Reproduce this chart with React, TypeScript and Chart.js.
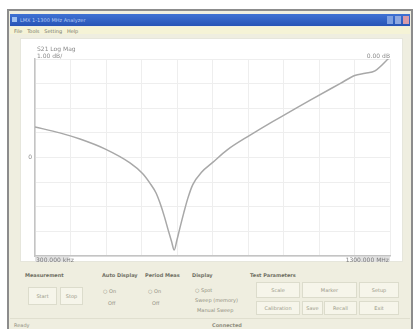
import React, { useEffect, useRef } from "react";
import { Chart, registerables } from "chart.js";

Chart.register(...registerables);

// Frequency (MHz) of sampled trace points
const freqMHz = [0.3, 91, 165, 256, 348, 394, 421, 444, 458, 474, 488, 500, 510, 520, 530, 545, 560, 578, 610, 651, 703, 788, 861, 909, 1008, 1117, 1171, 1209, 1245, 1300];
// Trace value (dB)
const s21dB = [1.24, 1.0, 0.75, 0.35, -0.22, -0.65, -1.04, -1.45, -1.85, -2.4, -2.95, -3.4, -3.76, -3.35, -2.9, -2.25, -1.65, -1.1, -0.6, -0.2, 0.3, 0.91, 1.4, 1.7, 2.33, 3.0, 3.33, 3.42, 3.52, 4.08];

const traceLabel = "S21 Log Mag";
const scaleLabel = "1.00 dB/";
const refLabel = "0.00 dB";
const startLabel = "300.000 kHz";
const stopLabel = "1300.000 MHz";
const yMin = -4;
const yMax = 4;
const xMin = 0.3;
const xMax = 1300;

const font = "'DejaVu Sans', sans-serif";

function ChartPanel() {
  const ref = useRef<HTMLCanvasElement | null>(null);
  useEffect(() => {
    if (!ref.current) return;
    const labelsPlugin = {
      id: "labels",
      afterDraw(chart: any) {
        const { ctx, chartArea } = chart;
        ctx.save();
        ctx.font = `6px ${font}`;
        ctx.fillStyle = "#8a8a8a";
        ctx.textBaseline = "middle";
        ctx.textAlign = "left";
        ctx.fillText(traceLabel, chartArea.left + 2, chartArea.top - 10);
        ctx.fillText(scaleLabel, chartArea.left + 2, chartArea.top - 3);
        ctx.textAlign = "right";
        ctx.fillText(refLabel, chartArea.right, chartArea.top - 3);
        ctx.textAlign = "right";
        ctx.fillText("0", chartArea.left - 3, (chartArea.top + chartArea.bottom) / 2);
        ctx.textAlign = "left";
        ctx.fillStyle = "#e2e2e2";
        ctx.fillRect(chartArea.left, chartArea.bottom + 1, 34, 6);
        ctx.fillRect(chartArea.right - 36, chartArea.bottom + 1, 36, 6);
        ctx.fillStyle = "#7a7a7a";
        ctx.fillText(startLabel, chartArea.left + 1, chartArea.bottom + 4);
        ctx.textAlign = "right";
        ctx.fillText(stopLabel, chartArea.right - 1, chartArea.bottom + 4);
        ctx.restore();
      },
    };
    const chart = new Chart(ref.current, {
      type: "line",
      data: {
        datasets: [
          {
            data: freqMHz.map((f, i) => ({ x: f, y: s21dB[i] })),
            borderColor: "#a8a8a8",
            borderWidth: 1.5,
            pointRadius: 0,
            cubicInterpolationMode: "monotone",
            fill: false,
          },
        ],
      },
      options: {
        animation: false,
        responsive: false,
        maintainAspectRatio: false,
        layout: { padding: { left: 15, top: 21, right: 13, bottom: 6 } },
        plugins: { legend: { display: false }, tooltip: { enabled: false } },
        scales: {
          x: {
            type: "linear",
            min: xMin,
            max: xMax,
            afterBuildTicks: (scale: any) => {
              scale.ticks = Array.from({ length: 11 }, (_, i) => ({ value: xMin + (i * (xMax - xMin)) / 10 }));
            },
            ticks: { display: false },
            grid: { color: "#eeeeee", drawTicks: false, lineWidth: 1 },
            border: { color: "#c4c4c4", width: 1.5 },
          },
          y: {
            min: yMin,
            max: yMax,
            ticks: { display: false, stepSize: 1 },
            grid: { color: "#eeeeee", drawTicks: false, lineWidth: 1 },
            border: { color: "#c4c4c4", width: 1.5 },
          },
        },
      },
      plugins: [labelsPlugin],
    });
    return () => chart.destroy();
  }, []);
  return <canvas ref={ref} width={383} height={224} style={{ position: "absolute", left: 20, top: 38, width: 383, height: 224 }} />;
}

const txt: React.CSSProperties = { position: "absolute", fontFamily: font, fontSize: 5, color: "#8f8f80", whiteSpace: "nowrap", lineHeight: "6px" };
const lbl: React.CSSProperties = { ...txt, color: "#707064", fontWeight: "bold" };
const btn = (left: number, top: number, w: number, h: number): React.CSSProperties => ({
  position: "absolute", left, top, width: w, height: h, border: "1px solid #dcdccc", background: "#f6f5ea", boxSizing: "border-box",
  fontFamily: font, fontSize: 5, color: "#999988", display: "flex", alignItems: "center", justifyContent: "center",
});

export default function App() {
  return (
    <div style={{ position: "fixed", left: 0, top: 0, width: 413, height: 329, background: "#ffffff", overflow: "hidden" }}>
      <div style={{ position: "absolute", left: 7, top: 9, width: 406, height: 322, border: "2px solid #8c8c8c", background: "#efeee0", boxSizing: "border-box" }} />
      <div style={{ position: "absolute", left: 10, top: 14, width: 400, height: 12, background: "linear-gradient(#3f72d4, #2754b6)" }} />
      <div style={{ position: "absolute", left: 12, top: 17, width: 5, height: 5, background: "#9fc0f0" }} />
      <div style={{ ...txt, left: 20, top: 17, color: "#b8ccf4" }}>LMX 1-1300 MHz Analyzer</div>
      <div style={{ position: "absolute", left: 387, top: 16, width: 6, height: 8, background: "#7fa0e0" }} />
      <div style={{ position: "absolute", left: 395, top: 16, width: 6, height: 8, background: "#8fa8e0" }} />
      <div style={{ position: "absolute", left: 403, top: 16, width: 6, height: 8, background: "#d89aa8" }} />
      <div style={{ position: "absolute", left: 10, top: 27, width: 400, height: 7, background: "#f5f3d6" }} />
      <div style={{ ...txt, left: 14, top: 28, color: "#7a7a70" }}>File&nbsp;&nbsp;&nbsp;Tools&nbsp;&nbsp;&nbsp;Setting&nbsp;&nbsp;&nbsp;Help</div>
      <div style={{ position: "absolute", left: 20, top: 38, width: 383, height: 224, background: "#ffffff", border: "1px solid #e6e6dc", boxSizing: "border-box" }} />
      <ChartPanel />
      {/* Bottom controls */}
      <div style={{ ...lbl, left: 25, top: 272 }}>Measurement</div>
      <div style={btn(28, 287, 29, 18)}>Start</div>
      <div style={btn(60, 287, 23, 18)}>Stop</div>
      <div style={{ ...lbl, left: 102, top: 272 }}>Auto Display</div>
      <div style={{ ...txt, left: 103, top: 288 }}>○ On</div>
      <div style={{ ...txt, left: 108, top: 300 }}>Off</div>
      <div style={{ ...lbl, left: 145, top: 272 }}>Period Meas</div>
      <div style={{ ...txt, left: 148, top: 288 }}>○ On</div>
      <div style={{ ...txt, left: 152, top: 300 }}>Off</div>
      <div style={{ ...lbl, left: 192, top: 272 }}>Display</div>
      <div style={{ ...txt, left: 195, top: 287 }}>○ Spot</div>
      <div style={{ ...txt, left: 195, top: 297 }}>Sweep (memory)</div>
      <div style={{ ...txt, left: 197, top: 307 }}>Manual Sweep</div>
      <div style={{ ...lbl, left: 250, top: 272 }}>Test Parameters</div>
      <div style={btn(256, 282, 44, 16)}>Scale</div>
      <div style={btn(302, 282, 55, 16)}>Marker</div>
      <div style={btn(359, 282, 40, 16)}>Setup</div>
      <div style={btn(256, 301, 44, 14)}>Calibration</div>
      <div style={btn(302, 301, 21, 14)}>Save</div>
      <div style={btn(324, 301, 33, 14)}>Recall</div>
      <div style={btn(359, 301, 40, 14)}>Exit</div>
      <div style={{ position: "absolute", left: 10, top: 318, width: 400, height: 1, background: "#e0dfcf" }} />
      <div style={{ ...txt, left: 14, top: 322 }}>Ready</div>
      <div style={{ ...txt, left: 212, top: 322, fontWeight: "bold" }}>Connected</div>
    </div>
  );
}
